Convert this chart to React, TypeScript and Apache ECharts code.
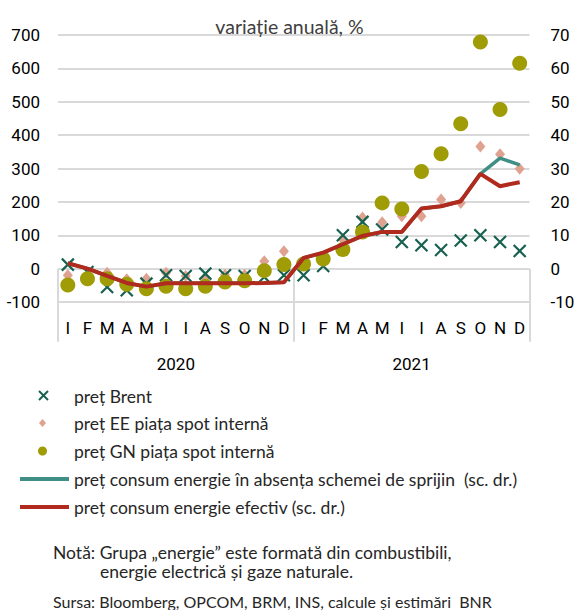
import React, { useEffect, useRef } from "react";
import * as echarts from "echarts";

const months = ["I", "F", "M", "A", "M", "I", "I", "A", "S", "O", "N", "D", "I", "F", "M", "A", "M", "I", "I", "A", "S", "O", "N", "D"];
const years = ["2020", "2021"];
const yLeftTicks = { min: -100, max: 700, interval: 100 };
const yRightTicks = { min: -10, max: 70, interval: 10 };

const brent = [12, -10, -55, -65, -45, -20, -22, -15, -20, -22, -25, -20, -20, 8, 100, 140, 117, 80, 70, 56, 84, 100, 80, 53];
const eeSpot = [-20, -25, -12, -32, -30, -12, -22, -28, -18, -18, 22, 52, 15, 25, 87, 153, 139, 157, 157, 207, 197, 366, 343, 299];
const gnSpot = [-49, -30, -30, -47, -60, -53, -60, -53, -40, -36, -6, 12, 14, 29, 57, 110, 197, 179, 291, 344, 434, 679, 477, 615];
const consumNoScheme = [1.6, 0, -2.2, -4.3, -5.4, -4.4, -4.4, -4.4, -4.4, -4.4, -4.3, -4.1, 3.2, 4.8, 7.3, 9.8, 11, 11, 18, 18.7, 20.2, 28.4, 33.1, 31.1];
const consumEfectiv = [1.6, 0, -2.2, -4.3, -5.4, -4.4, -4.4, -4.4, -4.4, -4.4, -4.3, -4.1, 3.2, 4.8, 7.3, 9.8, 11, 11, 18, 18.7, 20.2, 28.4, 24.7, 25.9];

const seriesNames = [
  "preț Brent",
  "preț EE piața spot internă",
  "preț GN piața spot internă",
  "preț consum energie în absența schemei de sprijin  (sc. dr.)",
  "preț consum energie efectiv (sc. dr.)",
];
const titleText = "variație anuală, %";
const noteLine1 = "Notă: Grupa „energie” este formată din combustibili,";
const noteLine2 = "energie electrică și gaze naturale.";
const sourceText = "Sursa: Bloomberg, OPCOM, BRM, INS, calcule și estimări  BNR";

const C_BRENT = "#17614f";
const C_EE = "#e0a290";
const C_GN = "#a09c06";
const C_TEAL = "#3f8f86";
const C_RED = "#b02a1e";
const C_GRID = "#d9d9d9";

const AXIS_FONT = "Roboto, 'Liberation Sans', sans-serif";
const TEXT_FONT = "Lato, 'Noto Sans', sans-serif";

export default function App() {
  const ref = useRef<HTMLDivElement>(null);
  useEffect(() => {
    document.body.style.margin = "0";
    const chart = echarts.init(ref.current!, undefined, { renderer: "svg" });
    const axisLabel = { fontFamily: AXIS_FONT, fontSize: 17, color: "#000" };
    const legendText = { fontFamily: TEXT_FONT, fontSize: 17.5, fill: "#262626" };
    const rowY = [396, 423, 451, 479, 507];
    chart.setOption({
      animation: false,
      title: {
        text: titleText,
        left: "center",
        top: 11,
        textStyle: { fontFamily: TEXT_FONT, fontSize: 19.5, fontWeight: "normal", color: "#404040" },
      },
      grid: { left: 58, right: 49.5, top: 35, bottom: 308, containLabel: false },
      xAxis: [
        {
          type: "category",
          data: months,
          position: "bottom",
          axisLine: { show: false },
          axisTick: { show: false },
          axisLabel: { ...axisLabel, margin: 17, interval: 0 },
        },
        {
          type: "category",
          data: years,
          position: "bottom",
          axisLine: { show: false },
          axisTick: { show: true, length: 73, lineStyle: { color: C_GRID, width: 2 } },
          axisLabel: { ...axisLabel, margin: 53 },
        },
      ],
      yAxis: [
        {
          type: "value",
          ...yLeftTicks,
          axisLine: { show: false },
          axisTick: { show: false },
          splitLine: { lineStyle: { color: C_GRID, width: 2 } },
          axisLabel: { ...axisLabel, margin: 18 },
        },
        {
          type: "value",
          position: "right",
          ...yRightTicks,
          axisLine: { show: false },
          axisTick: { show: false },
          splitLine: { show: false },
          axisLabel: { ...axisLabel, margin: 21 },
        },
      ],
      series: [
        {
          name: seriesNames[1],
          type: "scatter",
          data: eeSpot,
          symbol: "diamond",
          symbolSize: [10, 12],
          itemStyle: { color: C_EE, opacity: 1 },
        },
        {
          name: seriesNames[0],
          type: "scatter",
          data: brent,
          symbol: "path://M0,0L10,10M10,0L0,10",
          symbolSize: 12,
          itemStyle: { color: "transparent", borderColor: C_BRENT, borderWidth: 2.2, opacity: 1 },
        },
        {
          name: seriesNames[2],
          type: "scatter",
          data: gnSpot,
          symbol: "circle",
          symbolSize: 15,
          itemStyle: { color: C_GN, opacity: 1 },
        },
        {
          name: seriesNames[3],
          type: "line",
          yAxisIndex: 1,
          data: consumNoScheme,
          showSymbol: false,
          symbol: "none",
          lineStyle: { color: C_TEAL, width: 3.5 },
        },
        {
          name: seriesNames[4],
          type: "line",
          yAxisIndex: 1,
          data: consumEfectiv,
          showSymbol: false,
          symbol: "none",
          lineStyle: { color: C_RED, width: 4 },
        },
      ],
      graphic: [
        { type: "line", shape: { x1: 39, y1: rowY[0] - 5, x2: 48, y2: rowY[0] + 4 }, style: { stroke: C_BRENT, lineWidth: 2 } },
        { type: "line", shape: { x1: 48, y1: rowY[0] - 5, x2: 39, y2: rowY[0] + 4 }, style: { stroke: C_BRENT, lineWidth: 2 } },
        { type: "polygon", shape: { points: [[42.5, rowY[1] - 4], [46, rowY[1]], [42.5, rowY[1] + 4], [39, rowY[1]]] }, style: { fill: C_EE } },
        { type: "circle", shape: { cx: 42.5, cy: rowY[2], r: 4.5 }, style: { fill: C_GN } },
        { type: "line", shape: { x1: 20, y1: rowY[3], x2: 69, y2: rowY[3] }, style: { stroke: C_TEAL, lineWidth: 4 } },
        { type: "line", shape: { x1: 20, y1: rowY[4], x2: 69, y2: rowY[4] }, style: { stroke: C_RED, lineWidth: 4 } },
        ...seriesNames.map((n, i) => ({
          type: "text",
          x: 74,
          y: rowY[i],
          style: { text: n, ...legendText, verticalAlign: "middle" },
        })),
        { type: "text", x: 53, y: 552, style: { text: noteLine1, ...legendText, verticalAlign: "middle" } },
        { type: "text", x: 100, y: 571, style: { text: noteLine2, ...legendText, verticalAlign: "middle" } },
        { type: "text", x: 53, y: 601, style: { text: sourceText, ...legendText, fontSize: 16, verticalAlign: "middle" } },
      ],
    });
    return () => chart.dispose();
  }, []);
  return <div ref={ref} style={{ width: 579, height: 610 }} />;
}
